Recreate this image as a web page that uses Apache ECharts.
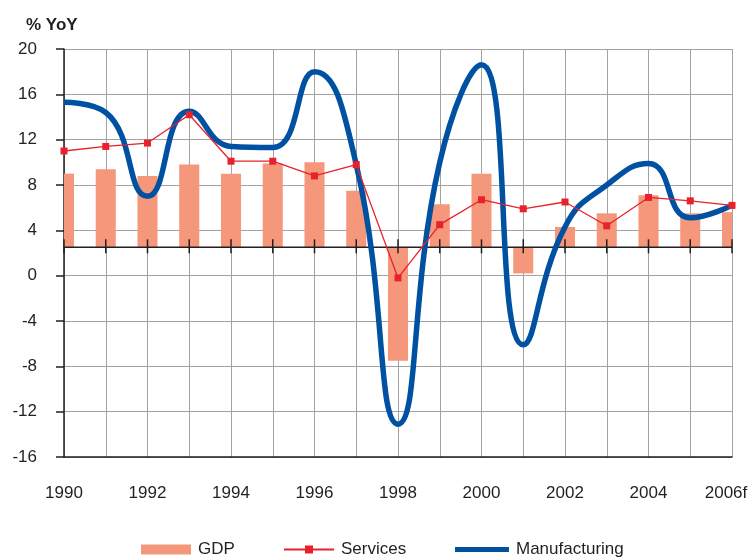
<!DOCTYPE html>
<html>
<head>
<meta charset="utf-8">
<script src="https://cdn.jsdelivr.net/npm/echarts@6/dist/echarts.min.js"></script>
<style>
  html, body { margin: 0; padding: 0; background: #fff; }
  #chart { width: 751px; height: 559px; }
</style>
</head>
<body>
<div id="chart"></div>
<script>
// Annual growth, % year on year (2006 is a forecast)
const years = ['1990', '1991', '1992', '1993', '1994', '1995', '1996', '1997', '1998',
               '1999', '2000', '2001', '2002', '2003', '2004', '2005', '2006f'];
const gdpGrowth = [9.0, 9.4, 8.8, 9.8, 9.0, 9.9, 10.0, 7.5, -7.5,
                   6.3, 9.0, 0.2, 4.3, 5.5, 7.1, 5.5, 5.6];
const servicesGrowth = [11.0, 11.4, 11.7, 14.2, 10.1, 10.1, 8.8, 9.8, -0.2,
                        4.5, 6.7, 5.9, 6.5, 4.4, 6.9, 6.6, 6.2];
const manufacturingGrowth = [15.3, 14.4, 7.0, 14.5, 11.4, 11.3, 18.0, 9.8, -13.1,
                             10.0, 18.6, -6.1, 4.3, 8.0, 9.9, 5.1, 6.2];

// value axis range and the level where the category axis crosses it
const yMin = -16, yMax = 20, yStep = 4;
const axisCross = 2.5;

const FONT = '"Liberation Sans", Arial, Helvetica, sans-serif';
const TEXT = '#231f20';
const GDP_COLOR = '#f4977a';
const SERV_COLOR = '#e8212b';
const MANU_COLOR = '#0051a2';

const chart = echarts.init(document.getElementById('chart'), null, { renderer: 'canvas' });

function clipToGrid(rect, params) {
  const cs = params.coordSys;
  return echarts.graphic.clipRectByRect(rect, { x: cs.x, y: cs.y, width: cs.width, height: cs.height });
}

// GDP bars rise or fall from the crossing level rather than from zero
function renderBar(params, api) {
  const idx = api.value(0);
  const top = api.coord([idx, api.value(1)]);
  const base = api.coord([idx, axisCross]);
  const w = api.size([1, 0])[0] * 0.48;
  const rect = clipToGrid({
    x: top[0] - w / 2,
    y: Math.min(top[1], base[1]),
    width: w,
    height: Math.abs(base[1] - top[1])
  }, params);
  return rect && { type: 'rect', shape: rect, style: { fill: GDP_COLOR } };
}

// category axis line at the crossing level, with a tick at every year
function renderCrossAxis(params, api) {
  const idx = api.value(0);
  const p = api.coord([idx, axisCross]);
  const children = [{
    type: 'line',
    shape: { x1: p[0], y1: p[1] - 8, x2: p[0], y2: p[1] + 6 },
    style: { stroke: '#231f20', lineWidth: 1.5 }
  }];
  if (idx < years.length - 1) {
    const q = api.coord([idx + 1, axisCross]);
    children.push({
      type: 'line',
      shape: { x1: p[0], y1: p[1], x2: q[0], y2: q[1] },
      style: { stroke: '#231f20', lineWidth: 1.5 }
    });
  }
  return { type: 'group', children: children };
}

const legendBase = {
  top: 541,
  padding: 0,
  selectedMode: false,
  itemHeight: 10,
  itemGap: 0,
  textStyle: { fontFamily: FONT, fontSize: 17, color: TEXT, padding: [0, 0, 0, 2] }
};

chart.setOption({
  animation: false,
  backgroundColor: '#ffffff',
  textStyle: { fontFamily: FONT },
  title: {
    text: '% YoY',
    left: 21,
    top: 12,
    textStyle: { fontFamily: FONT, fontSize: 17, fontWeight: 'bold', color: TEXT }
  },
  legend: [
    Object.assign({}, legendBase, { left: 141, itemWidth: 50, data: [{ name: 'GDP', icon: 'rect' }] }),
    Object.assign({}, legendBase, { left: 283, itemWidth: 50, data: ['Services'] }),
    Object.assign({}, legendBase, {
      left: 455, itemWidth: 54, itemHeight: 5,
      data: [{ name: 'Manufacturing', icon: 'rect' }]
    })
  ],
  grid: { left: 64, right: 19, top: 49, bottom: 102, containLabel: false },
  xAxis: {
    type: 'category',
    boundaryGap: false,
    data: years.map((y, i) => i === years.length - 1
      ? { value: y, textStyle: { padding: [0, 12, 0, 0] } }
      : y),
    axisLine: { show: true, onZero: false, lineStyle: { color: '#231f20', width: 1.5 } },
    axisTick: { show: false },
    axisLabel: { interval: 1, margin: 28, fontSize: 17, color: TEXT, fontFamily: FONT },
    splitLine: { show: true, interval: 0, lineStyle: { color: '#a2a2a2', width: 1 } }
  },
  yAxis: {
    type: 'value',
    min: yMin,
    max: yMax,
    interval: yStep,
    axisLine: { show: true, lineStyle: { color: '#231f20', width: 1.5 } },
    axisTick: { show: true, length: 8, lineStyle: { color: '#231f20', width: 1.5 } },
    axisLabel: { margin: 27, fontSize: 17, color: TEXT, fontFamily: FONT },
    splitLine: { show: true, lineStyle: { color: '#a2a2a2', width: 1 } }
  },
  series: [
    {
      name: 'GDP',
      type: 'custom',
      renderItem: renderBar,
      itemStyle: { color: GDP_COLOR },
      data: gdpGrowth.map((v, i) => [i, v]),
      encode: { x: 0, y: 1 },
      z: 2
    },
    {
      name: 'crossAxis',
      type: 'custom',
      renderItem: renderCrossAxis,
      silent: true,
      data: years.map((y, i) => [i, axisCross]),
      encode: { x: 0, y: 1 },
      z: 3
    },
    {
      name: 'Manufacturing',
      type: 'line',
      data: manufacturingGrowth,
      smooth: 0.5,
      symbol: 'none',
      lineStyle: { color: MANU_COLOR, width: 5.5 },
      itemStyle: { color: MANU_COLOR },
      z: 4
    },
    {
      name: 'Services',
      type: 'line',
      data: servicesGrowth,
      symbol: 'rect',
      symbolSize: 7,
      lineStyle: { color: SERV_COLOR, width: 1.3 },
      itemStyle: { color: SERV_COLOR },
      z: 5
    }
  ]
});
</script>
</body>
</html>
